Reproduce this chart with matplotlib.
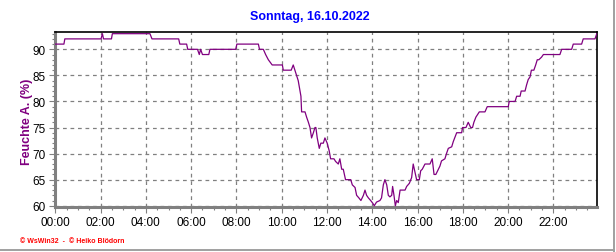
import matplotlib
matplotlib.use('Agg')
import matplotlib.pyplot as plt
from matplotlib.lines import Line2D
from matplotlib.ticker import MultipleLocator, FixedLocator

# readings: time of day in hours, relative humidity in %
hours = [0.00, 0.38, 0.42, 2.02, 2.08, 2.13, 2.48, 2.52, 4.18, 4.27,
         5.45, 5.50, 5.80, 5.85, 6.28, 6.36, 6.42, 6.50, 6.78, 6.83,
         7.97, 8.02, 8.97, 9.02, 9.19, 9.29, 9.41, 9.58, 10.03, 10.07,
         10.42, 10.51, 10.66, 10.73, 10.81, 10.85, 10.88, 11.03, 11.10, 11.18,
         11.25, 11.32, 11.40, 11.47, 11.51, 11.57, 11.66, 11.73, 11.84, 11.91,
         12.01, 12.10, 12.16, 12.23, 12.31, 12.38, 12.50, 12.57, 12.65, 12.72,
         12.82, 13.05, 13.12, 13.24, 13.31, 13.41, 13.50, 13.61, 13.68, 13.75,
         13.83, 13.93, 14.02, 14.09, 14.19, 14.34, 14.41, 14.49, 14.56, 14.64,
         14.71, 14.78, 14.86, 14.90, 14.96, 15.02, 15.08, 15.15, 15.23, 15.30,
         15.45, 15.52, 15.64, 15.74, 15.81, 15.89, 15.96, 16.08, 16.14, 16.21,
         16.33, 16.55, 16.65, 16.73, 16.81, 16.92, 16.99, 17.06, 17.21, 17.28,
         17.36, 17.51, 17.58, 17.66, 17.73, 17.95, 17.99, 18.14, 18.24, 18.35,
         18.43, 18.49, 18.58, 18.73, 18.98, 19.08, 20.01, 20.05, 20.31, 20.38,
         20.53, 20.58, 20.75, 20.82, 20.89, 20.97, 21.03, 21.14, 21.22, 21.29,
         21.36, 21.48, 21.56, 22.29, 22.37, 22.81, 22.88, 23.25, 23.32, 23.84,
         23.92]
humidity = [91, 91, 92, 92, 93, 92, 92, 93, 93, 92,
            92, 91, 91, 90, 90, 89, 90, 89, 89, 90,
            90, 91, 91, 90, 90, 89, 88, 87, 87, 86,
            86, 87, 85, 84, 82, 81, 78, 78, 77, 76,
            75, 73, 74, 75, 75, 73, 71, 72, 72, 73,
            72, 70.5, 69, 69, 69, 68.5, 68, 69, 67, 67,
            65, 65, 64, 63.5, 62, 61.5, 61, 62, 63, 62,
            61.5, 61, 60.5, 60, 60.7, 61, 61.5, 64, 65, 64,
            62, 61.7, 62, 63.7, 62, 60, 61, 60.6, 63, 63,
            63, 63.7, 64.3, 65.4, 68, 66.4, 65, 65, 66.7, 67,
            68, 68, 69, 66, 66, 67, 67.6, 68.6, 69, 70,
            71, 71.3, 72.3, 73.2, 74, 74, 75, 75, 76, 75,
            75, 76, 77, 78, 78, 79, 79, 80, 80, 81,
            81, 82, 82, 83.2, 84.2, 84.7, 86, 86, 87, 88,
            88, 88.5, 89, 89, 90, 90, 91, 91, 92, 92,
            93]

hour_ticks = list(range(0, 24, 2))
hour_labels = [f'{h:02d}:00' for h in hour_ticks]

title = 'Sonntag, 16.10.2022'
ylabel = 'Feuchte A. (%)'
footer = '\u00a9 WsWin32  -  \u00a9 Heiko Bl\u00f6dorn'

plt.rcParams['font.family'] = ['Liberation Sans', 'DejaVu Sans']

fig = plt.figure(figsize=(6.16, 2.53), dpi=100)
ax = fig.add_axes([0.0898, 0.1798, 0.8794, 0.6885])

ax.plot(hours, humidity, color='#800080', lw=0.9, zorder=3)

ax.set_xlim(0, 23.93)
ax.set_ylim(59.85, 93.26)
ax.xaxis.set_major_locator(FixedLocator(hour_ticks))
ax.set_xticks(hour_ticks, hour_labels)
ax.xaxis.set_minor_locator(MultipleLocator(0.5))
ax.yaxis.set_major_locator(FixedLocator([60, 65, 70, 75, 80, 85, 90]))
ax.yaxis.set_minor_locator(MultipleLocator(1))

ax.grid(True, which='major', color='#808080', ls=(0, (3, 3)), lw=0.9)
ax.tick_params(which='major', direction='out', length=4, width=0.8,
               color='#808080', labelsize=8.5, pad=3)
ax.tick_params(which='minor', direction='out', length=2, width=0.8,
               color='#808080')

for side in ('left', 'bottom'):
    ax.spines[side].set_color('#808080')
    ax.spines[side].set_linewidth(2.2)
for side in ('top', 'right'):
    ax.spines[side].set_color('black')
    ax.spines[side].set_linewidth(1.2)

fig.text(0.503, 0.933, title, color='#0000ff', fontsize=9, fontweight='bold',
         ha='center', va='center')
fig.text(0.044, 0.52, ylabel, color='#800080', fontsize=9, fontweight='bold',
         rotation=90, ha='center', va='center')
fig.text(0.033, 0.047, footer, color='red', fontsize=5, fontweight='bold',
         ha='left', va='center')

# window frame at right and bottom edges
fig.add_artist(Line2D([614 / 616, 614 / 616], [0, 1], color='#a0a0a0', lw=1.4,
                      transform=fig.transFigure))
fig.add_artist(Line2D([0, 614 / 616], [2 / 253, 2 / 253], color='#a0a0a0', lw=1.4,
                      transform=fig.transFigure))

fig.savefig('out.png', dpi=100)
